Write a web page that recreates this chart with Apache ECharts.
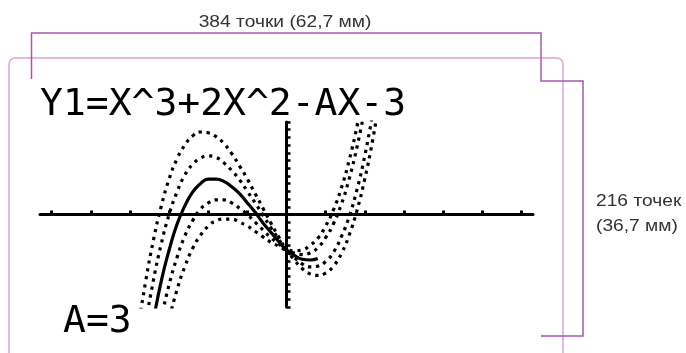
<!DOCTYPE html>
<html>
<head>
<meta charset="utf-8">
<script src="https://cdn.jsdelivr.net/npm/echarts@6.0.0/dist/echarts.min.js"></script>
<style>
    html, body { margin: 0; padding: 0; background: #fff; }
    #metric1 { width: 686px; height: 353px; }
</style>
</head>
<body>
<div id="metric1"></div>
<script>
var xs = [-4.0, -3.8, -3.6, -3.4, -3.2, -3.0, -2.8, -2.6, -2.4, -2.2, -2.0, -1.8, -1.6, -1.4, -1.2, -1.0, -0.8,
    -0.6, -0.4, -0.2, 0, 0.2, 0.4, 0.6, 0.8, 1.0, 1.2, 1.4, 1.6, 1.8, 2.0, 2.2, 2.4];

var yA1 = [null, null, null, null, -18.4, -13.7, -9.8, -6.8, -4.4, -2.7, -1.5, -0.8, -0.6, -0.6, -1.0, -1.5, -2.2,
    -2.9, -3.6, -4.1, -4.6, -4.7, -4.6, -4.0, -3.1, -1.5, 0.6, 3.4, 7.0, 11.4, 16.7, null, null];
var yA2 = [null, null, null, -18.8, -13.5, -9.1, -5.6, -2.8, -0.8, 0.7, 1.5, 1.9, 1.9, 1.5, 0.8, 0, -1.0,
    -2.0, -3.0, -3.8, -4.6, -5.0, -5.2, -5.0, -4.3, -3.0, -1.2, 1.3, 4.6, 8.7, 13.7, null, null];
// A=3 рисуется сплошной линией и обрывается у минимума
var yA3 = [null, null, null, -13.7, -8.6, -4.6, -1.3, 1.1, 2.9, 4.0, 4.6, 4.6, 4.3, 3.6, 2.7, 1.5, 0.3,
    -1.1, -2.3, -3.5, -4.6, -5.3, -5.8, -5.9, -5.7, null, null, null, null, null, null, null, null];
var yA4 = [null, -21.0, -14.2, -8.5, -3.8, 0, 2.9, 5.1, 6.5, 7.3, 7.6, 7.4, 6.7, 5.7, 4.5, 3.0, 1.5,
    -0.1, -1.7, -3.2, -4.6, -5.6, -6.4, -6.8, -6.7, -6.1, -4.9, -2.9, -0.3, 3.2, 7.6, 13.0, null];
var yA5 = [-22.8, -15.2, -8.7, -3.3, 1.1, 4.6, 7.2, 9.0, 10.2, 10.7, 10.6, 10.1, 9.2, 7.9, 6.3, 4.6, 2.7,
    0.8, -1.1, -2.9, -4.6, -5.9, -7.0, -7.7, -7.9, -7.6, -6.7, -5.1, -2.7, 0.5, 4.6, 9.6, 15.7];

var xTicks = [-6, -5, -4, -3, -2, -1, 0, 1, 2, 3, 4, 5, 6];

var titleText = 'Y1=X^3+2X^2-AX-3';
var paramText = 'A=3';
var widthText = '384 точки (62,7 мм)';
var heightText1 = '216 точек';
var heightText2 = '(36,7 мм)';

function pairs(ys) {
    var out = [];
    for (var i = 0; i < xs.length; i++) {
        out.push([xs[i], ys[i]]);
    }
    return out;
}

function dotted(ys) {
    return {
        type: 'line',
        data: pairs(ys),
        smooth: true,
        showSymbol: false,
        clip: true,
        lineStyle: { color: '#000', width: 3.2, type: [3.2, 4.8], cap: 'butt' }
    };
}

// подпись размеров: чуть растянута по ширине, как в оригинале
function note(x, y, text, align) {
    return {
        type: 'text',
        x: x,
        y: y,
        scaleX: 1.13,
        style: { x: 0, y: 0, text: text, font: '17px ' + noteFont, fill: '#333', textAlign: align, textVerticalAlign: 'middle' }
    };
}

var calcFont = '"DejaVu Sans Mono", monospace';
var noteFont = '"Liberation Sans", Arial, sans-serif';
var darkPurple = '#a35aac';
var lightPurple = '#d9a4d6';

var chart = echarts.init(document.getElementById('metric1'), null, { renderer: 'canvas' });

chart.setOption({
    animation: false,
    backgroundColor: '#fff',
    grid: { left: 40, top: 122, width: 493, height: 185, containLabel: false },
    xAxis: {
        type: 'value',
        min: -6.3,
        max: 6.3,
        axisLine: { onZero: true, lineStyle: { color: '#000', width: 3 } },
        axisTick: { show: true, inside: true, customValues: xTicks, length: 4, lineStyle: { color: '#000', width: 3 } },
        axisLabel: { show: false },
        splitLine: { show: false }
    },
    yAxis: {
        type: 'value',
        min: -12,
        max: 12,
        interval: 1,
        axisLine: { onZero: true, lineStyle: { color: '#000', width: 3 } },
        axisTick: { show: true, inside: true, length: 4, lineStyle: { color: '#000', width: 2.5 } },
        axisLabel: { show: false },
        splitLine: { show: false }
    },
    series: [
        dotted(yA1),
        dotted(yA2),
        dotted(yA4),
        dotted(yA5),
        {
            type: 'line',
            data: pairs(yA3),
            smooth: true,
            showSymbol: false,
            clip: true,
            lineStyle: { color: '#000', width: 3.2 }
        }
    ],
    graphic: [
        // рамка экрана
        {
            type: 'rect',
            shape: { x: 9, y: 58, width: 554, height: 340, r: 6 },
            style: { fill: null, stroke: lightPurple, lineWidth: 1.5 }
        },
        // размерные скобки
        {
            type: 'polyline',
            shape: { points: [[31.5, 79], [31.5, 33], [541, 33], [541, 81], [583, 81], [583, 336], [541, 336]] },
            style: { fill: null, stroke: darkPurple, lineWidth: 1.5 }
        },
        {
            type: 'text',
            style: { x: 40, y: 105, text: titleText, font: '38px ' + calcFont, fill: '#000', textVerticalAlign: 'middle' }
        },
        {
            type: 'text',
            style: { x: 63, y: 322, text: paramText, font: '38px ' + calcFont, fill: '#000', textVerticalAlign: 'middle' }
        },
        note(285, 22, widthText, 'center'),
        note(596, 201, heightText1, 'left'),
        note(596, 226, heightText2, 'left')
    ]
});
</script>
</body>
</html>
